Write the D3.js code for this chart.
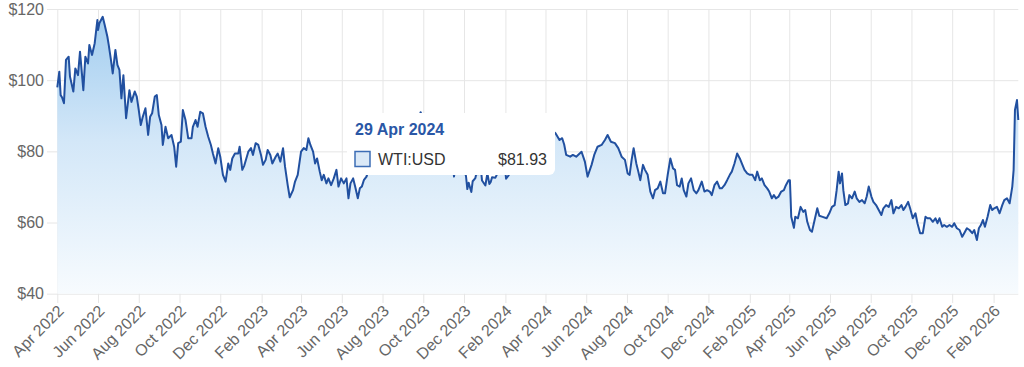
<!DOCTYPE html>
<html><head><meta charset="utf-8">
<script src="https://cdn.jsdelivr.net/npm/d3@7"></script>
<style>html,body{margin:0;padding:0;background:#fff;} svg{display:block;}</style>
</head><body>
<svg id="chart" width="1024" height="367"></svg>
<script>
const dates = [
"2022-04-01","2022-04-04","2022-04-06","2022-04-08","2022-04-11","2022-04-14","2022-04-18","2022-04-20","2022-04-25","2022-04-28",
"2022-05-02","2022-05-05","2022-05-10","2022-05-13","2022-05-17","2022-05-19","2022-05-23","2022-05-27","2022-05-31",
"2022-06-01","2022-06-03","2022-06-08","2022-06-11","2022-06-15","2022-06-17","2022-06-20","2022-06-23","2022-06-27","2022-06-30",
"2022-07-03","2022-07-06","2022-07-09","2022-07-13","2022-07-18","2022-07-21","2022-07-26","2022-07-29",
"2022-08-01","2022-08-04","2022-08-07","2022-08-11","2022-08-15","2022-08-18","2022-08-21","2022-08-25","2022-08-28","2022-08-31",
"2022-09-04","2022-09-06","2022-09-10","2022-09-14","2022-09-19","2022-09-23","2022-09-26","2022-09-29",
"2022-10-03","2022-10-06","2022-10-10","2022-10-14","2022-10-19","2022-10-21","2022-10-25","2022-10-28",
"2022-11-01","2022-11-05","2022-11-09","2022-11-13","2022-11-17","2022-11-20","2022-11-24","2022-11-28",
"2022-12-01","2022-12-05","2022-12-09","2022-12-13","2022-12-16","2022-12-19","2022-12-23","2022-12-28","2022-12-30",
"2023-01-03","2023-01-06","2023-01-12","2023-01-16","2023-01-19","2023-01-23","2023-01-27","2023-01-31",
"2023-02-03","2023-02-07","2023-02-10","2023-02-14","2023-02-17","2023-02-22","2023-02-25",
"2023-03-01","2023-03-05","2023-03-08","2023-03-12","2023-03-15","2023-03-20","2023-03-23","2023-03-27",
"2023-04-01","2023-04-05","2023-04-09","2023-04-12","2023-04-15","2023-04-19","2023-04-22","2023-04-25","2023-04-29",
"2023-05-02","2023-05-05","2023-05-09","2023-05-12","2023-05-16","2023-05-20","2023-05-24","2023-05-27","2023-05-31",
"2023-06-04","2023-06-08","2023-06-11","2023-06-14","2023-06-18","2023-06-21","2023-06-25","2023-06-28",
"2023-07-01","2023-07-04","2023-07-08","2023-07-11","2023-07-13","2023-07-17","2023-07-20","2023-07-24","2023-07-27","2023-07-31",
"2023-08-03","2023-08-07","2023-08-10","2023-08-14","2023-08-17","2023-08-21","2023-08-24","2023-08-28","2023-08-31",
"2023-09-05","2023-09-08","2023-09-12","2023-09-15","2023-09-19","2023-09-21","2023-09-25","2023-09-27","2023-09-29",
"2023-10-03","2023-10-05","2023-10-09","2023-10-12","2023-10-16","2023-10-19","2023-10-23","2023-10-26","2023-10-30",
"2023-11-02","2023-11-06","2023-11-08","2023-11-10","2023-11-14","2023-11-16","2023-11-20","2023-11-24","2023-11-28","2023-11-30",
"2023-12-04","2023-12-06","2023-12-08","2023-12-12","2023-12-14","2023-12-18","2023-12-20","2023-12-22","2023-12-26","2023-12-28",
"2024-01-02","2024-01-05","2024-01-08","2024-01-10","2024-01-12","2024-01-17","2024-01-19","2024-01-22","2024-01-25","2024-01-29","2024-01-31",
"2024-02-02","2024-02-06","2024-02-08","2024-02-12","2024-02-14","2024-02-16","2024-02-20","2024-02-22","2024-02-26","2024-02-29",
"2024-03-04","2024-03-07","2024-03-11","2024-03-14","2024-03-18","2024-03-20","2024-03-22","2024-03-26","2024-03-28",
"2024-04-02","2024-04-05","2024-04-09","2024-04-12","2024-04-16","2024-04-22","2024-04-26","2024-04-29",
"2024-05-02","2024-05-08","2024-05-12","2024-05-17","2024-05-25","2024-05-30",
"2024-06-03","2024-06-09","2024-06-13","2024-06-18","2024-06-24","2024-06-29",
"2024-07-03","2024-07-08","2024-07-14","2024-07-19","2024-07-24","2024-07-29",
"2024-08-02","2024-08-05","2024-08-08","2024-08-11","2024-08-15","2024-08-18","2024-08-21","2024-08-25","2024-08-28",
"2024-09-01","2024-09-05","2024-09-09","2024-09-12","2024-09-16","2024-09-20","2024-09-24","2024-09-27",
"2024-10-01","2024-10-05","2024-10-09","2024-10-12","2024-10-15","2024-10-19","2024-10-22","2024-10-25","2024-10-29",
"2024-11-01","2024-11-05","2024-11-09","2024-11-13","2024-11-16","2024-11-21","2024-11-25","2024-11-29",
"2024-12-03","2024-12-06","2024-12-10","2024-12-14","2024-12-18","2024-12-21","2024-12-25","2024-12-29",
"2025-01-02","2025-01-05","2025-01-09","2025-01-13","2025-01-17","2025-01-20","2025-01-24","2025-01-28",
"2025-02-01","2025-02-05","2025-02-09","2025-02-12","2025-02-16","2025-02-19","2025-02-23","2025-02-27",
"2025-03-02","2025-03-06","2025-03-09","2025-03-12","2025-03-16","2025-03-20","2025-03-24","2025-03-27","2025-03-31",
"2025-04-02","2025-04-03","2025-04-04","2025-04-08","2025-04-10","2025-04-14","2025-04-18","2025-04-22","2025-04-25","2025-04-28",
"2025-05-02","2025-05-05","2025-05-09","2025-05-13","2025-05-16","2025-05-21","2025-05-27","2025-05-31",
"2025-06-04","2025-06-08","2025-06-11","2025-06-14","2025-06-16","2025-06-19","2025-06-21","2025-06-24","2025-06-28","2025-06-30",
"2025-07-04","2025-07-08","2025-07-11","2025-07-15","2025-07-19","2025-07-23","2025-07-26","2025-07-29",
"2025-08-02","2025-08-05","2025-08-09","2025-08-13","2025-08-17","2025-08-20","2025-08-24","2025-08-28",
"2025-09-01","2025-09-04","2025-09-08","2025-09-12","2025-09-16","2025-09-19","2025-09-22","2025-09-26","2025-09-29",
"2025-10-03","2025-10-07","2025-10-10","2025-10-14","2025-10-18","2025-10-22","2025-10-25","2025-10-29",
"2025-11-02","2025-11-06","2025-11-09","2025-11-12","2025-11-16","2025-11-19","2025-11-23","2025-11-27",
"2025-12-01","2025-12-04","2025-12-08","2025-12-12","2025-12-16","2025-12-19","2025-12-23","2025-12-27","2025-12-31",
"2026-01-03","2026-01-07","2026-01-10","2026-01-13","2026-01-16","2026-01-19","2026-01-23","2026-01-27","2026-01-30",
"2026-02-02","2026-02-06","2026-02-10","2026-02-14","2026-02-17","2026-02-21","2026-02-25",
"2026-03-01","2026-03-03","2026-03-05","2026-03-08","2026-03-10"
];
const prices = [
98.0,102.4,95.8,95.2,93.5,105.7,106.6,101.0,96.8,103.3,
101.4,108.0,97.2,106.6,104.7,109.9,107.1,110.4,116.9,
114.1,116.0,117.8,115.5,112.2,109.9,106.1,101.9,108.5,104.3,
102.9,94.9,101.4,89.3,97.2,93.9,96.8,95.4,
91.6,87.4,89.7,92.1,84.6,89.7,90.7,95.4,95.8,90.2,
87.4,81.8,86.9,83.7,84.6,81.3,75.7,82.3,
82.7,91.6,88.8,83.7,83.7,86.9,88.8,86.9,
91.1,90.7,86.9,84.1,81.8,79.4,76.6,80.9,
78.5,73.4,71.5,76.6,74.8,78.0,79.4,79.4,81.3,
74.8,76.0,79.9,80.9,79.0,82.3,81.8,79.0,
76.2,77.6,80.4,79.0,76.6,78.5,79.4,
77.1,80.9,75.7,70.5,67.1,69.1,71.5,73.4,
79.9,80.9,80.4,83.7,81.8,79.9,76.6,78.0,74.3,
71.9,73.4,71.0,72.4,70.5,72.4,74.8,70.1,72.4,
71.0,72.4,66.8,71.0,72.4,70.1,66.8,69.6,
70.1,71.9,72.9,74.8,77.0,74.2,75.6,78.7,80.1,81.8,
81.6,81.9,82.8,82.5,80.4,80.7,79.0,80.1,83.6,
86.7,87.5,88.8,90.0,90.3,89.6,89.7,91.0,90.0,
89.2,82.3,86.4,82.9,86.7,89.4,85.5,83.2,82.3,
82.5,80.8,75.3,77.2,78.3,72.9,77.8,75.5,76.4,76.0,
73.0,69.4,71.2,68.6,71.6,72.5,74.2,73.6,75.6,71.8,
70.4,73.8,70.8,71.4,72.7,72.6,73.4,75.2,77.4,76.8,75.9,
72.3,73.3,76.2,76.9,76.6,79.2,77.0,78.6,77.6,78.3,
78.7,78.9,77.9,81.3,82.7,81.7,80.6,81.6,83.2,
85.2,86.9,85.2,85.7,85.1,83.2,83.7,81.93,
79.0,78.5,79.0,78.5,79.9,77.1,
72.9,76.2,79.0,81.3,81.8,83.2,
84.6,82.7,82.3,80.9,78.5,77.6,
73.8,73.4,77.6,80.9,76.6,74.3,71.9,76.2,74.8,
73.4,68.7,66.8,69.1,69.6,71.5,68.2,68.2,
73.4,78.0,75.2,74.8,70.5,70.1,72.4,69.1,67.3,
71.0,72.4,69.1,68.2,69.1,71.5,68.7,69.1,
68.7,67.7,70.5,71.5,69.6,69.6,70.5,71.9,
73.4,74.3,76.6,79.4,78.0,76.6,74.8,73.8,
73.4,73.4,71.9,74.3,71.9,72.4,70.5,69.6,
68.7,66.8,67.7,66.8,67.3,68.7,69.1,70.5,71.9,
71.9,67.0,61.6,58.5,61.6,61.2,64.4,63.0,63.5,60.2,
57.9,57.4,60.7,64.0,61.9,61.6,61.2,62.6,
64.4,64.9,69.1,74.3,71.0,73.8,69.1,64.9,65.4,67.7,
66.8,68.7,66.8,65.8,66.3,65.4,67.3,70.1,
67.3,65.8,64.9,63.5,62.1,64.0,64.9,64.4,
66.3,62.6,64.4,64.0,64.9,63.5,64.4,65.8,64.0,
61.2,62.6,59.8,57.0,57.0,61.6,61.2,61.2,
60.2,61.2,59.8,61.2,58.8,59.3,58.8,59.3,
58.8,59.8,58.4,57.9,56.0,57.0,58.4,57.9,57.0,
57.9,55.1,58.4,59.3,60.7,58.8,61.6,64.9,63.5,
64.0,64.4,62.6,64.9,66.3,66.8,65.4,
70.1,74.8,91.6,94.4,88.8
];
const yTicks = [40, 60, 80, 100, 120];
const xTickDates = ["2022-04-01","2022-06-01","2022-08-01","2022-10-01","2022-12-01",
"2023-02-01","2023-04-01","2023-06-01","2023-08-01","2023-10-01","2023-12-01",
"2024-02-01","2024-04-01","2024-06-01","2024-08-01","2024-10-01","2024-12-01",
"2025-02-01","2025-04-01","2025-06-01","2025-08-01","2025-10-01","2025-12-01","2026-02-01"];
const seriesName = "WTI:USD";
const tooltipDate = "29 Apr 2024";
const tooltipValue = "$81.93";

const parse = d3.utcParse("%Y-%m-%d");
const data = dates.map((d, i) => ({ date: parse(d), value: prices[i] }));

const pL = 57.3, pR = 1018.3, pT = 9, pB = 293.7;
const svg = d3.select("#chart");
const font = "'Liberation Sans', Arial, Helvetica, sans-serif";

const x = d3.scaleUtc().domain(d3.extent(data, d => d.date)).range([pL, pR]);
const y = d3.scaleLinear().domain([40, 120]).range([pB, pT]);

const defs = svg.append("defs");
const grad = defs.append("linearGradient").attr("id", "fillGrad")
  .attr("gradientUnits", "userSpaceOnUse").attr("x1", 0).attr("x2", 0)
  .attr("y1", y(118)).attr("y2", y(40));
grad.append("stop").attr("offset", "0%").attr("stop-color", "#a2cdef");
grad.append("stop").attr("offset", "45%").attr("stop-color", "#d3e7f8");
grad.append("stop").attr("offset", "100%").attr("stop-color", "#f7fbfe");

const yAxis = d3.axisLeft(y).tickValues(yTicks).tickFormat(d => "$" + d)
  .tickSize(-(pR - 47)).tickPadding(3);
const gy = svg.append("g").attr("transform", "translate(47,0)").call(yAxis);
gy.select(".domain").remove();
gy.selectAll("line").attr("stroke", "#e6e6e6").attr("stroke-width", 1);
gy.selectAll("text").attr("fill", "#666").style("font-family", font).style("font-size", "16px");

const xAxis = d3.axisBottom(x).tickValues(xTickDates.map(parse))
  .tickFormat(d3.utcFormat("%b %Y")).tickSize(-(303 - pT)).tickPadding(0);
const gx = svg.append("g").attr("transform", "translate(0,303)").call(xAxis);
gx.select(".domain").remove();
gx.selectAll("line").attr("stroke", "#e6e6e6").attr("stroke-width", 1);
gx.selectAll("text")
  .attr("fill", "#666").style("font-family", font).style("font-size", "16px")
  .attr("text-anchor", "end").attr("y", 0).attr("dy", "0.35em")
  .attr("transform", "translate(3,5) rotate(-45)");

const area = d3.area().x(d => x(d.date)).y0(y(40)).y1(d => y(d.value));
const line = d3.line().x(d => x(d.date)).y(d => y(d.value));
svg.append("path").datum(data).attr("d", area).attr("fill", "url(#fillGrad)");
svg.append("path").datum(data).attr("d", line).attr("fill", "none")
  .attr("stroke", "#2150a0").attr("stroke-width", 2).attr("stroke-linejoin", "round");

const tip = svg.append("g").attr("transform", "translate(347,113)");
tip.append("rect").attr("width", 208).attr("height", 62).attr("rx", 6).attr("fill", "#fff");
tip.append("text").attr("x", 8).attr("y", 22).text(tooltipDate)
  .style("font-family", font).style("font-size", "16px").style("font-weight", "bold").attr("fill", "#2a57a6");
tip.append("rect").attr("x", 8).attr("y", 38.5).attr("width", 15).attr("height", 15)
  .attr("fill", "#dbe9f7").attr("stroke", "#3d6db5").attr("stroke-width", 1.5);
tip.append("text").attr("x", 31).attr("y", 51.5).text(seriesName)
  .style("font-family", font).style("font-size", "16px").attr("fill", "#333");
tip.append("text").attr("x", 200).attr("y", 51.5).attr("text-anchor", "end").text(tooltipValue)
  .style("font-family", font).style("font-size", "16px").attr("fill", "#333");
</script>
</body></html>
